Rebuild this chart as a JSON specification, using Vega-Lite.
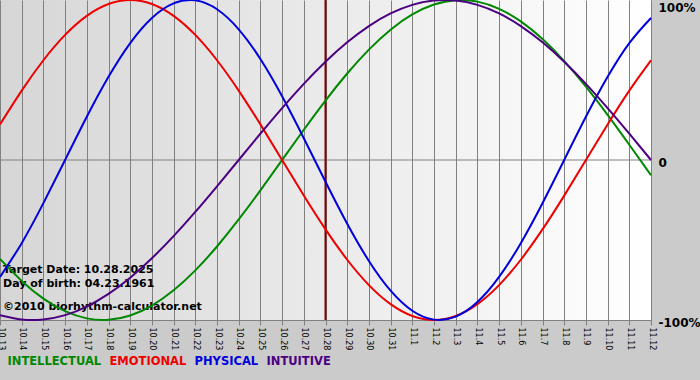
{
  "$schema": "https://vega.github.io/schema/vega-lite/v6.json",
  "width": 651,
  "height": 320,
  "autosize": {"type": "none"},
  "padding": {"left": 0, "top": 0, "right": 49, "bottom": 60},
  "background": "#cbcbcb",
  "data": {"values": [
    {"d": "10.13", "INTELLECTUAL": -0.6182, "EMOTIONAL": 0.2225, "PHYSICAL": -0.7308, "INTUITIVE": -0.9694},
    {"d": "10.14", "INTELLECTUAL": -0.7557, "EMOTIONAL": 0.4339, "PHYSICAL": -0.5196, "INTUITIVE": -0.9966},
    {"d": "10.15", "INTELLECTUAL": -0.8660, "EMOTIONAL": 0.6235, "PHYSICAL": -0.2698, "INTUITIVE": -0.9966},
    {"d": "10.16", "INTELLECTUAL": -0.9450, "EMOTIONAL": 0.7818, "PHYSICAL": 0, "INTUITIVE": -0.9694},
    {"d": "10.17", "INTELLECTUAL": -0.9898, "EMOTIONAL": 0.9010, "PHYSICAL": 0.2698, "INTUITIVE": -0.9158},
    {"d": "10.18", "INTELLECTUAL": -0.9989, "EMOTIONAL": 0.9749, "PHYSICAL": 0.5196, "INTUITIVE": -0.8372},
    {"d": "10.19", "INTELLECTUAL": -0.9718, "EMOTIONAL": 1, "PHYSICAL": 0.7308, "INTUITIVE": -0.7357},
    {"d": "10.20", "INTELLECTUAL": -0.9096, "EMOTIONAL": 0.9749, "PHYSICAL": 0.8879, "INTUITIVE": -0.6142},
    {"d": "10.21", "INTELLECTUAL": -0.8146, "EMOTIONAL": 0.9010, "PHYSICAL": 0.9791, "INTUITIVE": -0.4759},
    {"d": "10.22", "INTELLECTUAL": -0.6900, "EMOTIONAL": 0.7818, "PHYSICAL": 0.9977, "INTUITIVE": -0.3247},
    {"d": "10.23", "INTELLECTUAL": -0.5406, "EMOTIONAL": 0.6235, "PHYSICAL": 0.9423, "INTUITIVE": -0.1646},
    {"d": "10.24", "INTELLECTUAL": -0.3717, "EMOTIONAL": 0.4339, "PHYSICAL": 0.8170, "INTUITIVE": 0},
    {"d": "10.25", "INTELLECTUAL": -0.1893, "EMOTIONAL": 0.2225, "PHYSICAL": 0.6311, "INTUITIVE": 0.1646},
    {"d": "10.26", "INTELLECTUAL": 0, "EMOTIONAL": 0, "PHYSICAL": 0.3984, "INTUITIVE": 0.3247},
    {"d": "10.27", "INTELLECTUAL": 0.1893, "EMOTIONAL": -0.2225, "PHYSICAL": 0.1362, "INTUITIVE": 0.4759},
    {"d": "10.28", "INTELLECTUAL": 0.3717, "EMOTIONAL": -0.4339, "PHYSICAL": -0.1362, "INTUITIVE": 0.6142},
    {"d": "10.29", "INTELLECTUAL": 0.5406, "EMOTIONAL": -0.6235, "PHYSICAL": -0.3984, "INTUITIVE": 0.7357},
    {"d": "10.30", "INTELLECTUAL": 0.6900, "EMOTIONAL": -0.7818, "PHYSICAL": -0.6311, "INTUITIVE": 0.8372},
    {"d": "10.31", "INTELLECTUAL": 0.8146, "EMOTIONAL": -0.9010, "PHYSICAL": -0.8170, "INTUITIVE": 0.9158},
    {"d": "11.1", "INTELLECTUAL": 0.9096, "EMOTIONAL": -0.9749, "PHYSICAL": -0.9423, "INTUITIVE": 0.9694},
    {"d": "11.2", "INTELLECTUAL": 0.9718, "EMOTIONAL": -1, "PHYSICAL": -0.9977, "INTUITIVE": 0.9966},
    {"d": "11.3", "INTELLECTUAL": 0.9989, "EMOTIONAL": -0.9749, "PHYSICAL": -0.9791, "INTUITIVE": 0.9966},
    {"d": "11.4", "INTELLECTUAL": 0.9898, "EMOTIONAL": -0.9010, "PHYSICAL": -0.8879, "INTUITIVE": 0.9694},
    {"d": "11.5", "INTELLECTUAL": 0.9450, "EMOTIONAL": -0.7818, "PHYSICAL": -0.7308, "INTUITIVE": 0.9158},
    {"d": "11.6", "INTELLECTUAL": 0.8660, "EMOTIONAL": -0.6235, "PHYSICAL": -0.5196, "INTUITIVE": 0.8372},
    {"d": "11.7", "INTELLECTUAL": 0.7557, "EMOTIONAL": -0.4339, "PHYSICAL": -0.2698, "INTUITIVE": 0.7357},
    {"d": "11.8", "INTELLECTUAL": 0.6182, "EMOTIONAL": -0.2225, "PHYSICAL": 0, "INTUITIVE": 0.6142},
    {"d": "11.9", "INTELLECTUAL": 0.4582, "EMOTIONAL": 0, "PHYSICAL": 0.2698, "INTUITIVE": 0.4759},
    {"d": "11.10", "INTELLECTUAL": 0.2817, "EMOTIONAL": 0.2225, "PHYSICAL": 0.5196, "INTUITIVE": 0.3247},
    {"d": "11.11", "INTELLECTUAL": 0.0951, "EMOTIONAL": 0.4339, "PHYSICAL": 0.7308, "INTUITIVE": 0.1646},
    {"d": "11.12", "INTELLECTUAL": -0.0951, "EMOTIONAL": 0.6235, "PHYSICAL": 0.8879, "INTUITIVE": 0}
  ]},
  "layer": [
    {
      "data": {"values": [{}]},
      "mark": {"type": "rule", "color": "#808080", "strokeWidth": 1},
      "encoding": {"y": {"datum": 0, "type": "quantitative"}}
    },
    {
      "data": {"values": [{}]},
      "mark": {"type": "rule", "color": "#800000", "strokeWidth": 2},
      "encoding": {"x": {"datum": "10.28", "type": "ordinal"}}
    },
    {
      "data": {"values": [{}]},
      "mark": {"type": "text", "text": "Target Date: 10.28.2025", "align": "left", "baseline": "middle", "dx": 3, "font": "DejaVu Sans", "fontSize": 11, "fontWeight": "bold", "color": "#000000"},
      "encoding": {"x": {"datum": "10.13", "type": "ordinal"}, "y": {"datum": -0.6875, "type": "quantitative"}}
    },
    {
      "data": {"values": [{}]},
      "mark": {"type": "text", "text": "Day of birth: 04.23.1961", "align": "left", "baseline": "middle", "dx": 3, "font": "DejaVu Sans", "fontSize": 11, "fontWeight": "bold", "color": "#000000"},
      "encoding": {"x": {"datum": "10.13", "type": "ordinal"}, "y": {"datum": -0.775, "type": "quantitative"}}
    },
    {
      "data": {"values": [{}]},
      "mark": {"type": "text", "text": "©2010 biorhythm-calculator.net", "align": "left", "baseline": "middle", "dx": 3, "font": "DejaVu Sans", "fontSize": 11, "fontWeight": "bold", "color": "#000000"},
      "encoding": {"x": {"datum": "10.13", "type": "ordinal"}, "y": {"datum": -0.92, "type": "quantitative"}}
    },
    {
      "transform": [{"fold": ["INTELLECTUAL", "EMOTIONAL", "PHYSICAL", "INTUITIVE"], "as": ["series", "v"]}],
      "mark": {"type": "line", "strokeWidth": 2, "interpolate": "natural"},
      "encoding": {
        "x": {"field": "d", "type": "ordinal", "title": null,
          "scale": {"type": "point", "padding": 0, "domain": ["10.13","10.14","10.15","10.16","10.17","10.18","10.19","10.20","10.21","10.22","10.23","10.24","10.25","10.26","10.27","10.28","10.29","10.30","10.31","11.1","11.2","11.3","11.4","11.5","11.6","11.7","11.8","11.9","11.10","11.11","11.12"]}},
        "y": {"field": "v", "type": "quantitative", "title": null, "scale": {"domain": [-1, 1], "nice": false},
          "axis": {"orient": "right", "values": [-1, 0, 1], "labelExpr": "datum.value == 1 ? '100%' : datum.value == 0 ? '0' : '-100%'", "labelFont": "DejaVu Sans", "labelFontSize": 12, "labelFontWeight": "bold", "labelColor": "#000000", "labelPadding": 7, "labelAlign": "left",
            "labelBaseline": {"condition": {"test": "datum.value == 1", "value": "top"}, "value": "middle"},
            "labelOffset": {"condition": {"test": "datum.value == 1", "value": 2}, "value": 2},
            "ticks": false, "grid": false, "domainColor": "#808080", "title": null}},
        "color": {"field": "series", "type": "nominal",
          "scale": {"domain": ["INTELLECTUAL", "EMOTIONAL", "PHYSICAL", "INTUITIVE"], "range": ["#008800", "#ee0000", "#0000dd", "#4b0082"]},
          "legend": {"orient": "none", "legendX": 8, "legendY": 356, "direction": "horizontal", "title": null, "padding": 0,
            "symbolSize": 0.01, "symbolStrokeWidth": 0, "symbolOpacity": 0, "labelOffset": -12, "columnPadding": 7,
            "labelFont": "DejaVu Sans", "labelFontSize": 11.5, "labelFontWeight": "bold", "labelLimit": 0,
            "encode": {"labels": {"update": {"fill": {"scale": "color", "field": "value"}}}}}}
      }
    }
  ],
  "config": {
    "view": {"stroke": null, "fill": {"gradient": "linear", "x1": 0, "y1": 0, "x2": 1, "y2": 0, "stops": [{"offset": 0, "color": "#d6d6d6"}, {"offset": 1, "color": "#ffffff"}]}},
    "axisX": {"orient": "bottom", "labelAngle": 90, "labelAlign": "left", "labelBaseline": "middle", "labelFont": "DejaVu Sans", "labelFontSize": 8, "labelColor": "#000000", "labelPadding": 2, "domainColor": "#808080", "tickColor": "#808080", "tickSize": 5, "grid": true, "gridColor": "#808080", "gridOpacity": 1, "labelOverlap": false, "title": null},
    "axisY": {"orient": "right", "grid": false, "ticks": false, "title": null}
  }
}
